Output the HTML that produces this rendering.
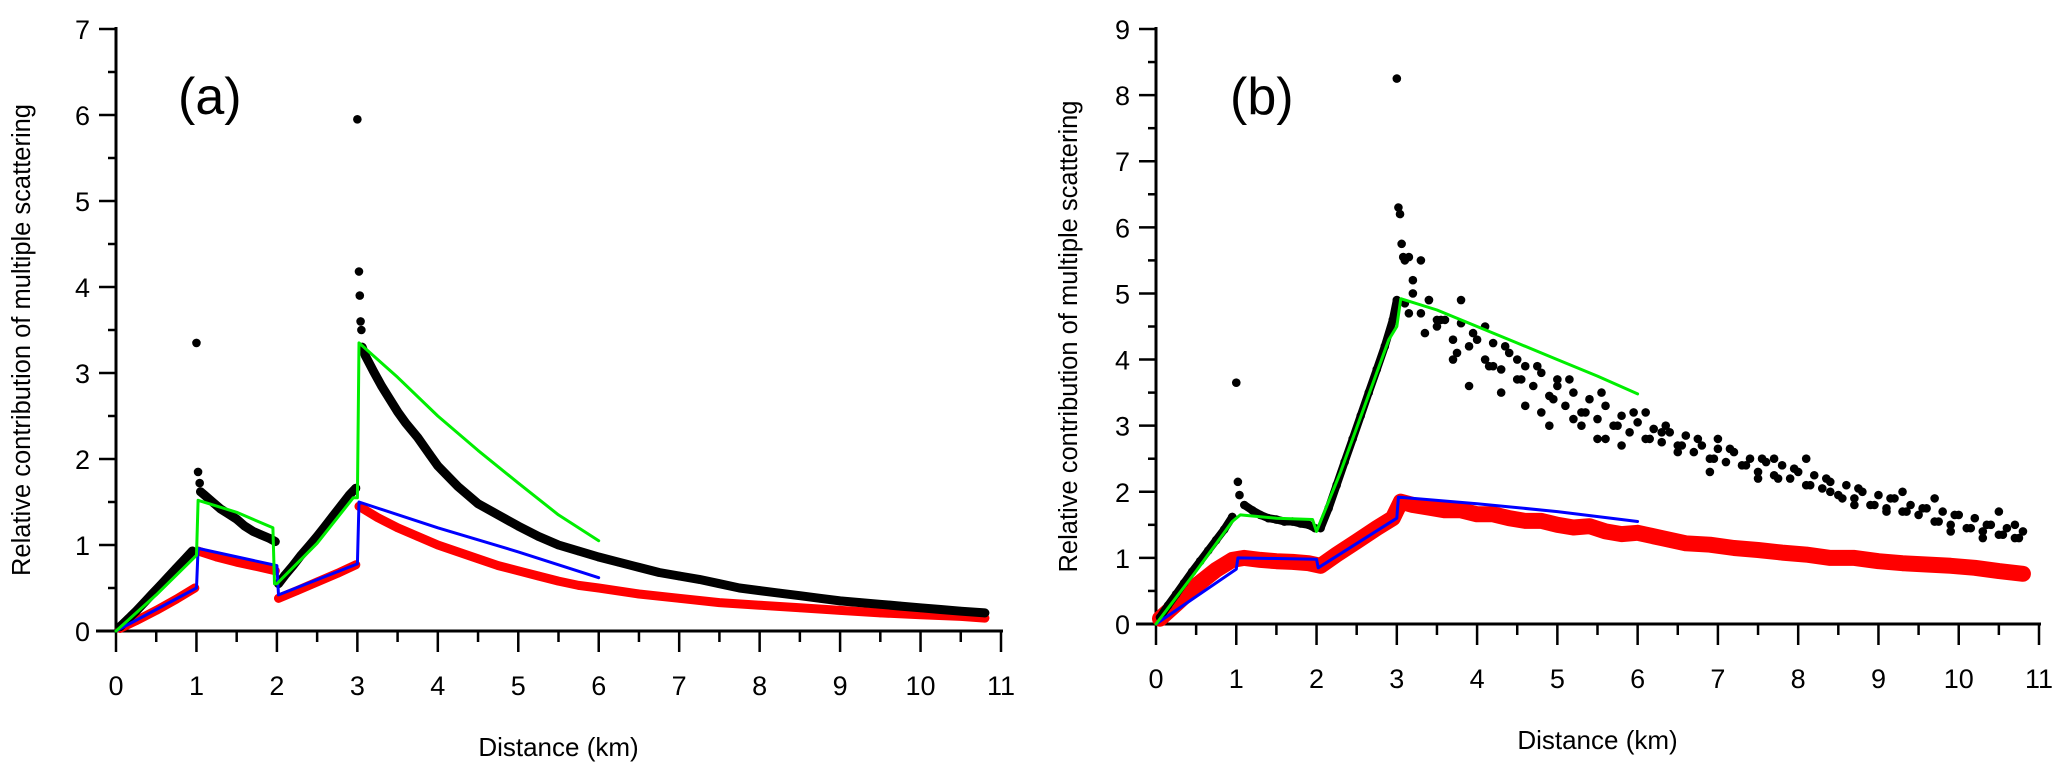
<!DOCTYPE html>
<html><head><meta charset="utf-8"><style>
html,body{margin:0;padding:0;background:#fff;}
svg{display:block;font-family:"Liberation Sans",Arial,sans-serif;}
</style></head><body>
<svg id="chart" width="2067" height="781" viewBox="0 0 2067 781" xmlns="http://www.w3.org/2000/svg">
<g id="pa"></g>
<g id="pb"></g>
</svg>
<script>
// ---------- Panel (a) data ----------
const aBlackX=[0.05,0.15,0.25,0.35,0.45,0.55,0.65,0.75,0.85,0.95,null,1.05,1.1,1.2,1.3,1.4,1.5,1.6,1.7,1.8,1.9,1.98,null,2.02,2.1,2.2,2.3,2.4,2.5,2.6,2.7,2.8,2.9,2.98,null,3.06,3.1,3.2,3.3,3.4,3.5,3.6,3.75,3.9,4,4.25,4.5,4.75,5,5.25,5.5,5.75,6,6.25,6.5,6.75,7,7.25,7.5,7.75,8,8.25,8.5,8.75,9,9.25,9.5,9.75,10,10.25,10.5,10.8];
const aBlackY=[0.05,0.14,0.23,0.33,0.43,0.53,0.63,0.73,0.83,0.93,null,1.62,1.58,1.5,1.42,1.36,1.3,1.22,1.16,1.12,1.08,1.04,null,0.55,0.65,0.76,0.88,0.99,1.1,1.22,1.34,1.46,1.58,1.66,null,3.3,3.2,3.02,2.85,2.7,2.55,2.42,2.25,2.05,1.92,1.68,1.48,1.35,1.22,1.1,1.0,0.93,0.86,0.8,0.74,0.68,0.64,0.6,0.55,0.5,0.47,0.44,0.41,0.38,0.35,0.33,0.31,0.29,0.27,0.25,0.23,0.21];
const aSpikeX=[1.0,1.02,1.04,3.0,3.02,3.03,3.04,3.05];
const aSpikeY=[3.35,1.85,1.72,5.95,4.18,3.9,3.6,3.5];
const aGreenX=[0,0.5,1.0,1.02,1.5,1.95,1.97,2.0,2.5,2.95,3.0,3.02,3.5,4,4.5,5,5.5,6];
const aGreenY=[0,0.42,0.88,1.52,1.38,1.2,0.55,0.55,1.02,1.55,1.55,3.35,2.95,2.5,2.1,1.72,1.35,1.05];
const aRedX=[0.05,0.25,0.5,0.75,0.98,null,1.02,1.25,1.5,1.75,1.98,null,2.02,2.25,2.5,2.75,2.98,null,3.02,3.25,3.5,3.75,4,4.25,4.5,4.75,5,5.25,5.5,5.75,6,6.5,7,7.5,8,8.5,9,9.5,10,10.5,10.8];
const aRedY=[0.03,0.12,0.24,0.37,0.5,null,0.93,0.86,0.8,0.75,0.7,null,0.38,0.47,0.57,0.67,0.77,null,1.45,1.32,1.2,1.1,1.0,0.92,0.84,0.76,0.7,0.64,0.58,0.53,0.5,0.43,0.38,0.33,0.3,0.27,0.24,0.21,0.19,0.17,0.15];
const aBlueX=[0,1.0,1.02,2.0,2.02,3.0,3.02,4,5,6];
const aBlueY=[0,0.5,0.96,0.76,0.42,0.78,1.5,1.2,0.92,0.62];

// ---------- Panel (b) data ----------
const bBlackX=[0.05,0.15,0.25,0.35,0.45,0.55,0.65,0.75,0.85,0.95,null,1.1,1.2,1.3,1.4,1.5,1.6,1.7,1.8,1.9,1.98,null,2.05,2.15,2.25,2.35,2.45,2.55,2.65,2.75,2.85,2.95,3.0];
const bBlackY=[0.1,0.28,0.45,0.62,0.79,0.95,1.11,1.27,1.43,1.62,null,1.8,1.72,1.65,1.6,1.58,1.55,1.55,1.52,1.5,1.45,null,1.45,1.75,2.1,2.45,2.8,3.15,3.5,3.85,4.2,4.6,4.9];
const bScatX=[3.1,3.2,3.3,3.4,3.5,3.6,3.7,3.8,3.9,4.0,4.1,4.2,4.3,4.4,4.5,4.6,4.7,4.8,4.9,5.0,5.1,5.2,5.3,5.4,5.5,5.6,5.7,5.8,5.9,6.0,6.1,6.2,6.3,6.4,6.5,6.6,6.7,6.8,6.9,7.0,7.1,7.2,7.3,7.4,7.5,7.6,7.7,7.8,7.9,8.0,8.1,8.2,8.3,8.4,8.5,8.6,8.7,8.8,8.9,9.0,9.1,9.2,9.3,9.4,9.5,9.6,9.7,9.8,9.9,10.0,10.1,10.2,10.3,10.4,10.5,10.6,10.7,10.8];
const bScatY=[4.85,5.0,4.7,4.9,4.5,4.6,4.3,4.55,4.2,4.3,4.0,4.25,3.85,4.1,3.7,3.9,3.6,3.8,3.45,3.6,3.3,3.5,3.2,3.4,3.1,3.3,3.0,3.15,2.9,3.05,2.8,2.95,2.75,2.9,2.7,2.85,2.6,2.7,2.5,2.65,2.45,2.6,2.4,2.5,2.3,2.45,2.25,2.4,2.2,2.3,2.1,2.25,2.05,2.15,1.95,2.1,1.9,2.0,1.8,1.95,1.75,1.9,1.7,1.8,1.65,1.75,1.55,1.7,1.5,1.65,1.45,1.6,1.4,1.5,1.35,1.45,1.3,1.4];
const bScat2X=[3.15,3.35,3.55,3.75,3.95,4.15,4.35,4.55,4.75,4.95,5.15,5.35,5.55,5.75,5.95,6.15,6.35,6.55,6.75,6.95,7.15,7.35,7.55,7.75,7.95,8.15,8.35,8.55,8.75,8.95,9.15,9.35,9.55,9.75,9.95,10.15,10.35,10.55,10.75];
const bScat2Y=[4.7,4.4,4.6,4.1,4.4,3.9,4.2,3.7,3.9,3.4,3.7,3.2,3.5,3.0,3.2,2.8,3.0,2.7,2.8,2.5,2.65,2.4,2.5,2.2,2.35,2.1,2.2,1.9,2.05,1.8,1.9,1.7,1.75,1.55,1.65,1.45,1.5,1.35,1.3];
const bExtraX=[1.0,1.02,1.04,3.0,3.02,3.04,3.06,3.08,3.1,3.15,3.2,3.3,3.5,3.7,3.9,4.1,4.3,4.6,4.9,5.2,5.5,5.8,6.1,6.5,7.0,7.5,8.1,8.7,9.3,9.9,10.5,3.4,3.8,4.2,4.5,4.8,5.0,5.3,5.6,6.3,6.9,7.7,8.4,9.1,9.7,10.3,10.7];
const bExtraY=[3.65,2.15,1.95,8.25,6.3,6.2,5.75,5.55,5.5,5.55,5.2,5.5,4.6,4.0,3.6,4.5,3.5,3.3,3.0,3.1,2.8,2.7,3.2,2.6,2.8,2.2,2.5,1.8,2.0,1.4,1.7,4.9,4.9,3.9,4.0,3.2,3.7,3.0,2.8,2.9,2.3,2.5,2.0,1.7,1.9,1.3,1.5];
const bGreenX=[0,0.5,0.95,1.05,1.5,1.95,2.0,2.3,2.6,2.9,3.0,3.05,3.5,4,4.5,5,5.5,6];
const bGreenY=[0,0.8,1.55,1.65,1.6,1.58,1.4,2.3,3.3,4.3,4.5,4.92,4.75,4.5,4.25,4.0,3.75,3.48];
const bRedX=[0.05,0.25,0.5,0.75,0.95,1.1,1.3,1.5,1.7,1.9,2.05,2.25,2.5,2.75,2.95,3.05,3.2,3.4,3.6,3.8,4,4.2,4.4,4.6,4.8,5,5.2,5.4,5.6,5.8,6,6.3,6.6,6.9,7.2,7.5,7.8,8.1,8.4,8.7,9,9.3,9.6,9.9,10.2,10.5,10.8];
const bRedY=[0.08,0.3,0.58,0.82,0.97,1.0,0.97,0.95,0.94,0.92,0.88,1.05,1.25,1.45,1.6,1.85,1.8,1.76,1.72,1.72,1.66,1.66,1.6,1.56,1.56,1.5,1.46,1.48,1.4,1.36,1.38,1.3,1.22,1.2,1.15,1.12,1.08,1.05,1.0,1.0,0.95,0.92,0.9,0.88,0.85,0.8,0.76];
const bBlueX=[0,1.0,1.02,2.0,2.02,3.0,3.02,4,5,6];
const bBlueY=[0,0.83,1.0,0.98,0.85,1.6,1.92,1.82,1.7,1.55];

// tick labels
const aYTicks=[0,1,2,3,4,5,6,7];
const bYTicks=[0,1,2,3,4,5,6,7,8,9];
const xTicks=[0,1,2,3,4,5,6,7,8,9,10,11];

const NS="http://www.w3.org/2000/svg";
function mk(parent,tag,attrs){const e=document.createElementNS(NS,tag);for(const k in attrs)e.setAttribute(k,attrs[k]);parent.appendChild(e);return e;}

function drawPanel(g,cfg){
  const sx=v=>cfg.x0+v*(cfg.x1-cfg.x0)/11;
  const sy=v=>cfg.y0-v*(cfg.y0-cfg.yTop)/cfg.ymax;
  let ax=mk(g,'line',{x1:cfg.x0,y1:cfg.yTop-2,x2:cfg.x0,y2:cfg.y0+1.5,stroke:'#000','stroke-width':3});
  
  
  let bx=mk(g,'line',{x1:cfg.x0-20,y1:cfg.y0,x2:cfg.x1+2,y2:cfg.y0,stroke:'#000','stroke-width':3});
  
  
  for(let i=0;i<=22;i++){
    const v=i/2, maj=i%2===0;
    const t=mk(g,'line',{x1:sx(v),y1:cfg.y0,x2:sx(v),y2:cfg.y0+(maj?21:11),stroke:'#000','stroke-width':2.5});
    
    
  }
  xTicks.forEach(v=>{
    const t=mk(g,'text',{x:sx(v),y:cfg.y0+64,'text-anchor':'middle','font-size':27});
    t.textContent=v;
    
    
  });
  for(let i=0;i<=cfg.ymax*2;i++){
    const v=i/2, maj=i%2===0;
    const t=mk(g,'line',{x1:cfg.x0-(maj?17:8),y1:sy(v),x2:cfg.x0,y2:sy(v),stroke:'#000','stroke-width':2.5});
    
    
  }
  cfg.yTicks.forEach(v=>{
    const t=mk(g,'text',{x:cfg.x0-26,y:sy(v)+10,'text-anchor':'end','font-size':27});
    t.textContent=v;
    
    
  });
  const xt=mk(g,'text',{x:(cfg.x0+cfg.x1)/2,y:cfg.y0+125,'text-anchor':'middle','font-size':26});
  xt.textContent='Distance (km)';
  
  
  const yt=mk(g,'text',{x:0,y:0,'text-anchor':'middle','font-size':25.5,transform:`translate(${cfg.ytX},${(cfg.y0+cfg.yTop)/2+10}) rotate(-90)`});
  yt.textContent='Relative contribution of multiple scattering';
  
  
  const pl=mk(g,'text',{x:cfg.lblX,y:cfg.lblY,'font-size':52});
  pl.textContent=cfg.label;
  
  

  function path(xs,ys){let d='',pen=false;xs.forEach((x,i)=>{if(x===null||ys[i]===null){pen=false;return;}d+=(pen?'L':'M')+sx(x).toFixed(1)+','+sy(ys[i]).toFixed(1);pen=true;});return d;}
  function band(xs,ys,color,w,name){
    const p=mk(g,'path',{d:path(xs,ys),fill:'none',stroke:color,'stroke-width':w,'stroke-linejoin':'round','stroke-linecap':'round'});
    
    
  }
  function dots(xs,ys,color,name){
    xs.forEach((x,i)=>{if(x===null)return;
      const c=mk(g,'circle',{cx:sx(x),cy:sy(ys[i]),r:4.3,fill:color});
      
      
    });
  }
  band(cfg.rx,cfg.ry,'#ff0000',cfg.redW,'red-series-band');
  dots(cfg.rx,cfg.ry,'#ff0000','red-point');
  band(cfg.kx,cfg.ky,'#000',cfg.bandW,'black-series-band');
  dots(cfg.kx,cfg.ky,'#000','black-point');
  cfg.scat.forEach(s=>dots(s[0],s[1],'#000','black-point'));
  band(cfg.blx,cfg.bly,'#0000ff',3,'blue-series-line');
  band(cfg.gx,cfg.gy,'#00ee00',3,'green-series-line');
}

drawPanel(document.getElementById('pa'),{x0:116,x1:1001,y0:631,yTop:29,ymax:7,yTicks:aYTicks,ytX:30,label:'(a)',lblX:178,lblY:114,
  kx:aBlackX,ky:aBlackY,scat:[[aSpikeX,aSpikeY]],rx:aRedX,ry:aRedY,gx:aGreenX,gy:aGreenY,blx:aBlueX,bly:aBlueY,bandW:9,redW:9});
drawPanel(document.getElementById('pb'),{x0:1156,x1:2039,y0:624,yTop:29,ymax:9,yTicks:bYTicks,ytX:1077,label:'(b)',lblX:1230,lblY:114,
  kx:bBlackX,ky:bBlackY,scat:[[bScatX,bScatY],[bScat2X,bScat2Y],[bExtraX,bExtraY]],rx:bRedX,ry:bRedY,gx:bGreenX,gy:bGreenY,blx:bBlueX,bly:bBlueY,bandW:8,redW:16});
</script>
</body></html>
